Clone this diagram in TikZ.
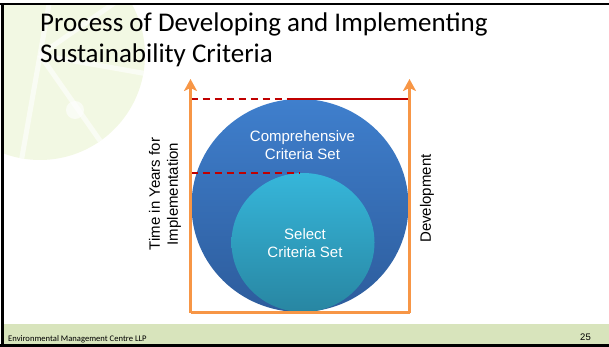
\documentclass[tikz,border=0pt]{standalone}
\usepackage{fontspec}
\setmainfont{Liberation Sans}
\newfontfamily\titlefont{Carlito}
\usetikzlibrary{positioning,arrows.meta,shapes.geometric}
\definecolor{axisOrange}{HTML}{F79646}
\definecolor{levelRed}{HTML}{C00000}
\definecolor{bigTop}{HTML}{3F7FCD}
\definecolor{bigBottom}{HTML}{2D5C9C}
\definecolor{smallTop}{HTML}{36B6DA}
\definecolor{smallBottom}{HTML}{2886A2}
\definecolor{footerFill}{HTML}{D8E4BC}
\definecolor{limeFill}{HTML}{E8F2CC}

\begin{document}
\begin{tikzpicture}[
    x=1pt, y=-1pt,
    setshape/.style={
        ellipse, inner sep=0pt, draw=none
    },
    setlabel/.style={
        align=center, text=white, inner sep=0pt,
        font=\fontsize{15}{18}\selectfont
    },
    sidelabel/.style={
        align=center, rotate=90, inner sep=0pt,
        font=\fontsize{15}{18}\selectfont
    },
    axis/.style={-{Stealth[length=12pt,width=13pt,inset=3pt]}, line width=3pt, draw=axisOrange},
    level/.style={line width=2pt, draw=levelRed}
]
  \useasboundingbox (0,0) rectangle (609,347);

  % Background lime slice
  \begin{scope}
    \clip (3,5) rectangle (609,324);
    \fill[limeFill, opacity=0.55] (40,55) circle (105);
    \foreach \ang in {-80,-35,10,55,100} {
      \draw[white, line width=5pt, opacity=0.6] (40,55) -- ++(\ang:105);
    }
    \fill[white, opacity=0.6] (75,110) circle (9);
  \end{scope}

  % Footer band and frame
  \fill[footerFill] (3,324) rectangle (609,344);
  \draw[black, line width=2pt] (0,4) -- (609,4);
  \draw[black, line width=2.5pt] (2.5,4) -- (2.5,347);
  \draw[black, line width=3pt] (0,345.5) -- (609,345.5);

  % Title
  \node[anchor=base west, inner sep=0pt, font=\titlefont\fontsize{27}{31}\selectfont] (title1) at (40,31.5) {Process of Developing and Implementing};
  \node[anchor=base west, inner sep=0pt, font=\titlefont\fontsize{27}{31}\selectfont] (title2) at (40,62.5) {Sustainability Criteria};

  % Sets
  \node[setshape, minimum width=217pt, minimum height=213pt, top color=bigTop, bottom color=bigBottom] (bigset) at (300,205.5) {};
  \node[setshape, minimum width=143pt, minimum height=139pt, top color=smallTop, bottom color=smallBottom] (smallset) at (303,242.5) {};
  \node[setlabel] (bigtext) at (302.5,145) {Comprehensive\\Criteria Set};
  \node[setlabel] (smalltext) at (305,243) {Select\\Criteria Set};

  % Axis corners
  \coordinate (axisLB) at (190.5,312.5);
  \coordinate (axisLT) at (190.5,79);
  \coordinate (axisRB) at (409.5,312.5);
  \coordinate (axisRT) at (409.5,79);

  % Level lines
  \coordinate (topL) at (190.5,99);
  \coordinate (topM) at (293,99);
  \coordinate (topR) at (409.5,99);
  \coordinate (midL) at (190.5,173);
  \coordinate (midR) at (300,173);
  \draw[level, dash pattern=on 7pt off 5pt] (topL) -- (topM);
  \draw[level] (topM) -- (topR);
  \draw[level, dash pattern=on 7pt off 5pt] (midL) -- (midR);

  % Axes
  \draw[axisOrange, line width=3pt] (axisLB) -- (axisRB);
  \draw[axis] (axisLB) -- (axisLT);
  \draw[axis] (axisRB) -- (axisRT);

  % Side labels
  \node[sidelabel] (timelabel) at (165,194) {Time in Years for\\Implementation};
  \node[sidelabel] (devlabel) at (427,198.5) {Development};

  % Footer texts
  \node[anchor=base west, inner sep=0pt, font=\titlefont\fontsize{8.6}{10}\selectfont] (centre) at (8,341) {Environmental Management Centre LLP};
  \node[anchor=base east, inner sep=0pt, font=\fontsize{9.5}{11}\selectfont] (pageno) at (591,340) {25};

\end{tikzpicture}
\end{document}
